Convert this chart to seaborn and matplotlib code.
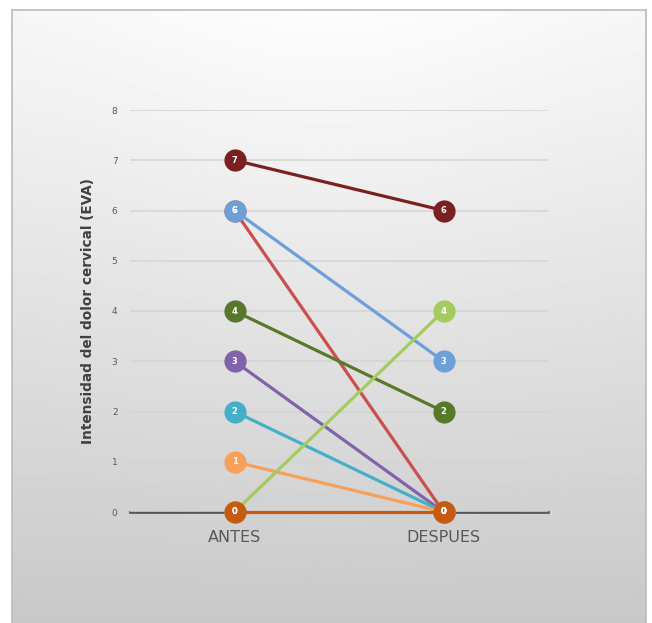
import numpy as np
import pandas as pd
import matplotlib
matplotlib.use("Agg")
import matplotlib.pyplot as plt
import seaborn as sns

# ---- data ----
categories = ["ANTES", "DESPUES"]
series_names = ["s1", "s2", "s3", "s4", "s5", "s6", "s7", "s8", "s9"]
antes = [7, 6, 6, 4, 3, 2, 1, 0, 0]
despues = [6, 0, 3, 2, 0, 0, 0, 4, 0]
colors = ["#7B2020", "#C9504D", "#6F9FD8", "#58792A", "#8063A8",
          "#45AFC8", "#F7A05A", "#A3CB5E", "#C65A10"]
y_ticks = [0, 1, 2, 3, 4, 5, 6, 7, 8]
y_label = "Intensidad del dolor cervical (EVA)"

rows = []
for name, a, d in zip(series_names, antes, despues):
    rows.append({"serie": name, "x": 0, "valor": a})
    rows.append({"serie": name, "x": 1, "valor": d})
df = pd.DataFrame(rows)
palette = dict(zip(series_names, colors))

sns.set_theme(style="white")
plt.rcParams['font.family'] = ['DejaVu Sans']

W, H = 652, 623
fig = plt.figure(figsize=(W / 100, H / 100), dpi=100)
fig.patch.set_facecolor("white")

# background gradient panel
bg = fig.add_axes([12 / W, 0, (646 - 12) / W, (H - 10) / H], zorder=0)
yy, xx = np.mgrid[0:1:300j, -1:1:300j]
vert = 0.96 - 0.175 * yy ** 1.1
rad = 0.03 * np.exp(-((xx) ** 2) / 0.6) * (1 - yy)
img = np.clip(vert + rad, 0, 1)
bg.imshow(img, cmap="gray", vmin=0, vmax=1, aspect="auto", extent=[0, 1, 1, 0])
bg.set_xlim(0, 1)
bg.set_ylim(1, 0)
bg.set_xticks([])
bg.set_yticks([])
for s in bg.spines.values():
    s.set_color("#BBBBBB")
    s.set_linewidth(1.2)
bg.spines["bottom"].set_visible(False)

ax = fig.add_axes([130 / W, 1 - 512 / H, (548 - 130) / W, (512 - 110) / H], zorder=1)
ax.patch.set_alpha(0)

sns.lineplot(data=df, x="x", y="valor", hue="serie", palette=palette,
             hue_order=series_names, marker="o", markersize=16,
             markeredgewidth=0, linewidth=2.3, legend=False, ax=ax,
             sort=False)
for ln in ax.lines:
    ln.set_clip_on(False)
    ln.set_zorder(3)

# numbers inside markers
for name, a, d in zip(series_names, antes, despues):
    for xv, yv in ((0, a), (1, d)):
        ax.text(xv, yv, str(yv), ha="center", va="center", color="white",
                fontsize=6, fontweight="bold", zorder=10)

ax.set_xlim(-0.5, 1.5)
ax.set_ylim(0, 8)
ax.set_yticks(y_ticks)
ax.set_yticklabels([str(v) for v in y_ticks], fontsize=6.5, color="#595959")
ax.set_xticks([0, 1])
ax.set_xticklabels(categories, fontsize=11.5, color="#595959")
ax.set_xticks([-0.5, 0.5, 1.5], minor=True)
ax.tick_params(axis="x", which="major", length=0, pad=13)
ax.tick_params(axis="x", which="minor", length=4, width=1.5, color="#595959", direction="out")
ax.tick_params(axis="y", length=0, pad=9)
ax.grid(axis="y", color="#D4D4D4", linewidth=1.1)
ax.set_axisbelow(True)
for side in ("left", "right", "top"):
    ax.spines[side].set_visible(False)
ax.spines["bottom"].set_color("#595959")
ax.spines["bottom"].set_linewidth(2)
ax.spines["bottom"].set_zorder(0.5)
ax.set_xlabel("")
ax.set_ylabel(y_label, fontsize=9.8, fontweight="bold", color="#404040", labelpad=12)

fig.savefig("out.png", dpi=100)
